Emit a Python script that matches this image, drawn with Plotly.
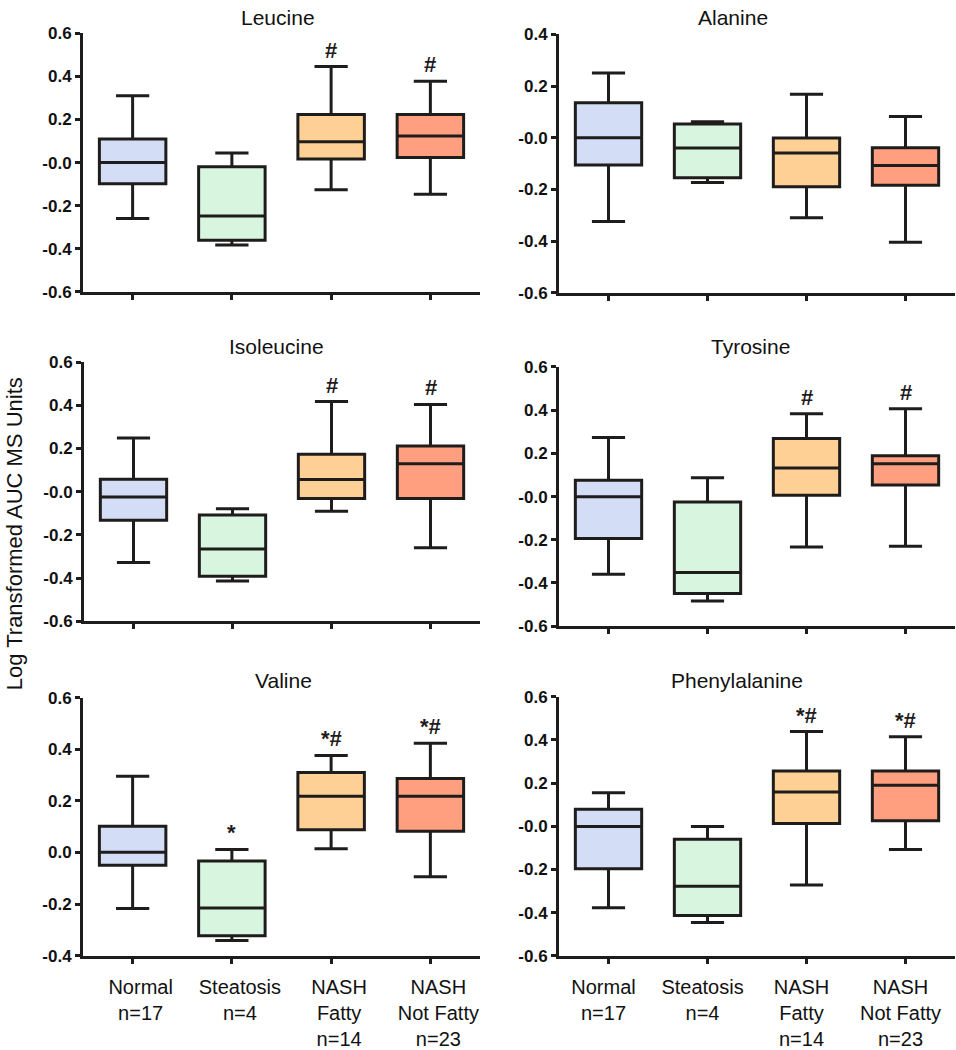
import plotly.graph_objects as go

W, H = 956, 1050

GROUPS = ["Normal", "Steatosis", "NASH<br>Fatty", "NASH<br>Not Fatty"]
GROUP_N = [17, 4, 14, 23]
FILLS = ["#D3DDF5", "#D8F5DF", "#FFD095", "#FF9F80"]
LINE = "#1F1C1C"

# ---- data (lower whisker, Q1, median, Q3, upper whisker, significance) ----
LEU_LOW = [-0.26, -0.383, -0.126, -0.147]
LEU_Q1 = [-0.099, -0.361, 0.016, 0.023]
LEU_MED = [0.0, -0.248, 0.097, 0.123]
LEU_Q3 = [0.109, -0.02, 0.223, 0.223]
LEU_HIGH = [0.31, 0.045, 0.446, 0.378]
LEU_SIG = ["", "", "#", "#"]

ALA_LOW = [-0.324, -0.173, -0.31, -0.405]
ALA_Q1 = [-0.106, -0.155, -0.19, -0.184]
ALA_MED = [0.0, -0.04, -0.059, -0.108]
ALA_Q3 = [0.135, 0.053, -0.001, -0.039]
ALA_HIGH = [0.251, 0.062, 0.168, 0.082]
ALA_SIG = ["", "", "", ""]

ILE_LOW = [-0.328, -0.413, -0.09, -0.259]
ILE_Q1 = [-0.132, -0.392, -0.032, -0.032]
ILE_MED = [-0.025, -0.265, 0.057, 0.129]
ILE_Q3 = [0.058, -0.108, 0.173, 0.211]
ILE_HIGH = [0.248, -0.079, 0.417, 0.404]
ILE_SIG = ["", "", "#", "#"]

TYR_LOW = [-0.36, -0.484, -0.233, -0.23]
TYR_Q1 = [-0.194, -0.449, 0.006, 0.054]
TYR_MED = [-0.001, -0.351, 0.132, 0.152]
TYR_Q3 = [0.076, -0.025, 0.269, 0.189]
TYR_HIGH = [0.274, 0.087, 0.383, 0.407]
TYR_SIG = ["", "", "#", "#"]

VAL_LOW = [-0.217, -0.341, 0.015, -0.094]
VAL_Q1 = [-0.049, -0.322, 0.088, 0.082]
VAL_MED = [0.001, -0.215, 0.218, 0.218]
VAL_Q3 = [0.102, -0.033, 0.31, 0.287]
VAL_HIGH = [0.295, 0.012, 0.376, 0.423]
VAL_SIG = ["", "*", "*#", "*#"]

PHE_LOW = [-0.378, -0.446, -0.272, -0.108]
PHE_Q1 = [-0.197, -0.413, 0.013, 0.025]
PHE_MED = [-0.001, -0.278, 0.158, 0.189]
PHE_Q3 = [0.079, -0.061, 0.256, 0.256]
PHE_HIGH = [0.155, -0.001, 0.438, 0.414]
PHE_SIG = ["", "", "*#", "*#"]

TICKS_6 = [-0.6, -0.4, -0.2, 0.0, 0.2, 0.4, 0.6]
TICKTEXT_6 = ["-0.6", "-0.4", "-0.2", "-0.0", "0.2", "0.4", "0.6"]
TICKS_ALA = [-0.6, -0.4, -0.2, 0.0, 0.2, 0.4]
TICKTEXT_ALA = ["-0.6", "-0.4", "-0.2", "-0.0", "0.2", "0.4"]
TICKS_VAL = [-0.4, -0.2, 0.0, 0.2, 0.4, 0.6]
TICKTEXT_VAL = ["-0.4", "-0.2", "0.0", "0.2", "0.4", "0.6"]

# panel: title, data, y range, ticks, pixel box (x0, x1, ytop, ybottom),
#        title centre x px, title centre y px, show x labels, x label shift px
PANELS = [
    ("Leucine", (LEU_LOW, LEU_Q1, LEU_MED, LEU_Q3, LEU_HIGH, LEU_SIG), [-0.6, 0.6],
     TICKS_6, TICKTEXT_6, (83, 480, 25, 289), 278, 9, False, 0),
    ("Alanine", (ALA_LOW, ALA_Q1, ALA_MED, ALA_Q3, ALA_HIGH, ALA_SIG), [-0.6, 0.4],
     TICKS_ALA, TICKTEXT_ALA, (559, 955, 26, 290), 733, 9, False, 0),
    ("Isoleucine", (ILE_LOW, ILE_Q1, ILE_MED, ILE_Q3, ILE_HIGH, ILE_SIG), [-0.6, 0.6],
     TICKS_6, TICKTEXT_6, (84, 480, 361, 626), 276, 345, False, 0),
    ("Tyrosine", (TYR_LOW, TYR_Q1, TYR_MED, TYR_Q3, TYR_HIGH, TYR_SIG), [-0.6, 0.6],
     TICKS_6, TICKTEXT_6, (559, 955, 366, 631), 750, 345, False, 0),
    ("Valine", (VAL_LOW, VAL_Q1, VAL_MED, VAL_Q3, VAL_HIGH, VAL_SIG), [-0.4, 0.6],
     TICKS_VAL, TICKTEXT_VAL, (83, 480, 704, 968), 283, 687, True, 8),
    ("Phenylalanine", (PHE_LOW, PHE_Q1, PHE_MED, PHE_Q3, PHE_HIGH, PHE_SIG), [-0.6, 0.6],
     TICKS_6, TICKTEXT_6, (559, 955, 703, 968), 737, 687, True, -5),
]

FONT = "Arial, 'Liberation Sans', Helvetica, sans-serif"
cat_labels = [f"{g}<br>n={n}" for g, n in zip(GROUPS, GROUP_N)]
positions = list(range(len(GROUPS)))

fig = go.Figure()
annotations = []
layout_axes = {}

for k, (title, stats, yr, tv, tt, box, tx, ty, showx, lshift) in enumerate(PANELS):
    low, q1, med, q3, high, sig = stats
    idx = "" if k == 0 else str(k + 1)
    xa, ya = "x" + idx, "y" + idx
    for i in positions:
        fig.add_trace(go.Box(
            x=[i], q1=[q1[i]], median=[med[i]], q3=[q3[i]],
            lowerfence=[low[i]], upperfence=[high[i]],
            fillcolor=FILLS[i], line=dict(color=LINE, width=3),
            width=0.67, whiskerwidth=0.5, boxpoints=False,
            xaxis=xa, yaxis=ya, showlegend=False, name=GROUPS[i],
        ))
        if sig[i]:
            annotations.append(dict(
                x=i, y=high[i], xref=xa, yref=ya, text=f"<b>{sig[i]}</b>",
                showarrow=False, yanchor="bottom", yshift=2,
                font=dict(family=FONT, size=22, color=LINE),
            ))
    x0, x1, yt, yb = box
    layout_axes["xaxis" + idx] = dict(
        domain=[x0 / W, x1 / W], range=[-0.5, 3.5], anchor=ya,
        tickvals=positions, ticktext=cat_labels, showticklabels=showx,
        ticks="outside", ticklen=5, tickwidth=3, tickcolor=LINE,
        ticklabelstandoff=6, ticklabelshift=lshift,
        showline=True, linewidth=3, linecolor=LINE, showgrid=False, zeroline=False,
        tickfont=dict(family=FONT, size=20, color="#111111"),
        fixedrange=True,
    )
    layout_axes["yaxis" + idx] = dict(
        domain=[1 - yb / H, 1 - yt / H], range=yr, anchor=xa,
        tickvals=tv, ticktext=tt,
        ticks="outside", ticklen=5, tickwidth=3, tickcolor=LINE,
        showline=True, linewidth=3, linecolor=LINE, showgrid=False, zeroline=False,
        tickfont=dict(family=FONT, size=17, color="#111111", weight="bold"),
        fixedrange=True,
    )
    annotations.append(dict(
        x=tx / W, y=1 - ty / H, xref="paper", yref="paper", text=title,
        showarrow=False, xanchor="center", yanchor="middle",
        font=dict(family=FONT, size=21, color="#111111"),
    ))

annotations.append(dict(
    x=14 / W, y=1 - 537 / H, xref="paper", yref="paper",
    text="Log Transformed AUC MS Units", textangle=-90,
    showarrow=False, xanchor="center", yanchor="middle",
    font=dict(family=FONT, size=22, color="#111111"),
))

fig.update_layout(
    width=W, height=H, margin=dict(l=0, r=0, t=0, b=0),
    paper_bgcolor="white", plot_bgcolor="white",
    boxmode="overlay", annotations=annotations, **layout_axes,
)

fig.write_html(
    "out.html",
    config={"displayModeBar": False},
    post_script="document.body.style.margin='0';document.body.style.overflow='hidden';",
)
